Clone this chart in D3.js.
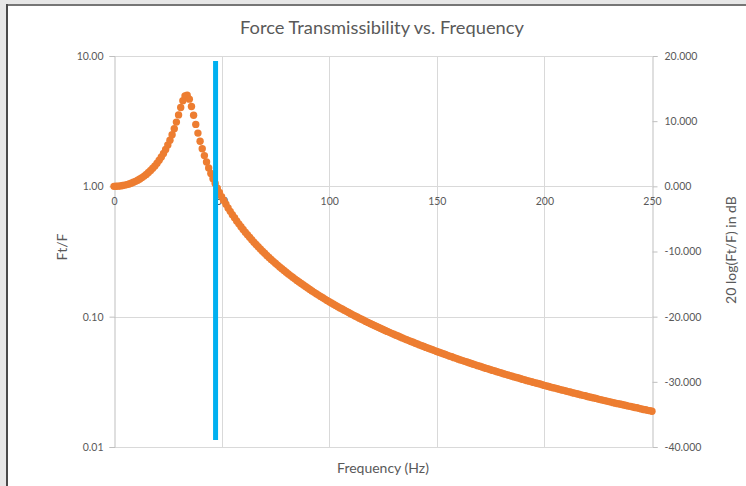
<!DOCTYPE html>
<html>
<head>
<meta charset="utf-8">
<script src="https://cdn.jsdelivr.net/npm/d3@7"></script>
<style>
html,body{margin:0;padding:0;background:#e7e7e7;}
svg{display:block;}
</style>
</head>
<body>
<svg id="chart" width="746" height="486"></svg>
<script>
// ---- data ----
const title = "Force Transmissibility vs. Frequency";
const xTitle = "Frequency (Hz)";
const yTitle = "Ft/F";
const y2Title = "20 log(Ft/F) in dB";
const xTicks = [0, 50, 100, 150, 200, 250];
const yTicks = [0.01, 0.1, 1, 10];
const y2Ticks = [-40, -30, -20, -10, 0, 10, 20];
const frequency = [
0,1,2,3,4,5,6,7,8,9,10,11,12,13,14,15,16,17,18,19,20,21,22,23,24,25,26,27,28,29,
30,31,32,33,34,35,36,37,38,39,40,41,42,43,44,45,46,47,48,49,50,51,52,53,54,55,56,57,58,59,
60,61,62,63,64,65,66,67,68,69,70,71,72,73,74,75,76,77,78,79,80,81,82,83,84,85,86,87,88,89,
90,91,92,93,94,95,96,97,98,99,100,101,102,103,104,105,106,107,108,109,110,111,112,113,114,115,116,117,118,119,
120,121,122,123,124,125,126,127,128,129,130,131,132,133,134,135,136,137,138,139,140,141,142,143,144,145,146,147,148,149,
150,151,152,153,154,155,156,157,158,159,160,161,162,163,164,165,166,167,168,169,170,171,172,173,174,175,176,177,178,179,
180,181,182,183,184,185,186,187,188,189,190,191,192,193,194,195,196,197,198,199,200,201,202,203,204,205,206,207,208,209,
210,211,212,213,214,215,216,217,218,219,220,221,222,223,224,225,226,227,228,229,230,231,232,233,234,235,236,237,238,239,
240,241,242,243,244,245,246,247,248,249,250];
const transmissibility = [
1,1.0008,1.0034,1.0077,1.0137,1.0216,1.0315,1.0433,1.0573,1.0736,
1.0924,1.1140,1.1386,1.1665,1.1983,1.2343,1.2752,1.3216,1.3746,1.4353,
1.5049,1.5855,1.6791,1.7889,1.9186,2.0734,2.2599,2.4871,2.7663,3.1106,
3.5316,4.0254,4.5421,4.9361,5.0000,4.6650,4.0992,3.5067,2.9876,2.5623,
2.2201,1.9447,1.7209,1.5369,1.3837,1.2547,1.1449,1.0505,0.9686,0.8969,
0.8339,0.7779,0.7280,0.6833,0.6430,0.6065,0.5733,0.5431,0.5154,0.4900,
0.4665,0.4449,0.4249,0.4063,0.3890,0.3728,0.3577,0.3436,0.3304,0.3180,
0.3063,0.2952,0.2849,0.2751,0.2658,0.2570,0.2486,0.2407,0.2332,0.2261,
0.2193,0.2128,0.2066,0.2007,0.1950,0.1896,0.1844,0.1795,0.1748,0.1702,
0.1658,0.1616,0.1576,0.1537,0.1500,0.1464,0.1430,0.1396,0.1364,0.1333,
0.1303,0.1274,0.1246,0.1220,0.1194,0.1168,0.1144,0.1120,0.1098,0.1075,
0.1054,0.1033,0.1013,0.0993,0.0974,0.0956,0.0938,0.0920,0.0904,0.0887,
0.0871,0.0856,0.0841,0.0826,0.0812,0.0798,0.0784,0.0771,0.0758,0.0745,
0.0733,0.0721,0.0710,0.0698,0.0687,0.0676,0.0666,0.0655,0.0645,0.0636,
0.0626,0.0617,0.0607,0.0598,0.0590,0.0581,0.0573,0.0565,0.0557,0.0549,
0.0541,0.0533,0.0526,0.0519,0.0512,0.0505,0.0498,0.0492,0.0485,0.0479,
0.0472,0.0466,0.0460,0.0454,0.0449,0.0443,0.0437,0.0432,0.0427,0.0421,
0.0416,0.0411,0.0406,0.0401,0.0397,0.0392,0.0387,0.0383,0.0378,0.0374,
0.0370,0.0365,0.0361,0.0357,0.0353,0.0349,0.0345,0.0341,0.0338,0.0334,
0.0330,0.0327,0.0323,0.0320,0.0317,0.0313,0.0310,0.0307,0.0304,0.0300,
0.0297,0.0294,0.0291,0.0288,0.0285,0.0283,0.0280,0.0277,0.0274,0.0272,
0.0269,0.0266,0.0264,0.0261,0.0259,0.0256,0.0254,0.0251,0.0249,0.0247,
0.0244,0.0242,0.0240,0.0238,0.0236,0.0233,0.0231,0.0229,0.0227,0.0225,
0.0223,0.0221,0.0219,0.0217,0.0215,0.0214,0.0212,0.0210,0.0208,0.0206,
0.0205,0.0203,0.0201,0.0200,0.0198,0.0196,0.0194,0.0193,0.0191,0.0190,0.0188];
const markerLineX = [47.2, 47.2];
const markerLineY = [9.15, 0.0113];

// ---- drawing ----
const svg = d3.select("#chart");
const font = "Lato, 'Noto Sans', sans-serif";
const textCol = "#595959";
const gridCol = "#d9d9d9";
const axisCol = "#bfbfbf";

// chart frame
svg.append("rect").attr("x", 8).attr("y", 6).attr("width", 738).attr("height", 480).attr("fill", "#ffffff");
svg.append("line").attr("x1", 6).attr("x2", 746).attr("y1", 5).attr("y2", 5).attr("stroke", "#767676").attr("stroke-width", 2);
svg.append("line").attr("x1", 7).attr("x2", 7).attr("y1", 4).attr("y2", 486).attr("stroke", "#4a4a4a").attr("stroke-width", 2);

const x = d3.scaleLinear().domain([0, 250]).range([114, 652]);
const y = d3.scaleLog().domain([0.01, 10]).range([447, 56]);
const y2 = d3.scaleLinear().domain([-40, 20]).range([447, 56]);

// gridlines
const grid = svg.append("g").attr("shape-rendering", "crispEdges");
grid.selectAll("line.h").data(yTicks).join("line")
  .attr("x1", x(0)).attr("x2", x(250))
  .attr("y1", d => Math.round(y(d)) + 0.5).attr("y2", d => Math.round(y(d)) + 0.5)
  .attr("stroke", gridCol).attr("stroke-width", 1);
grid.selectAll("line.v").data(xTicks.filter(d => d > 0 && d < 250)).join("line")
  .attr("x1", d => Math.round(x(d)) + 0.5).attr("x2", d => Math.round(x(d)) + 0.5)
  .attr("y1", y(10)).attr("y2", y(0.01))
  .attr("stroke", gridCol).attr("stroke-width", 1);

// left axis
const gL = svg.append("g").attr("transform", `translate(${x(0) + 0.5},0)`)
  .call(d3.axisLeft(y).tickValues(yTicks).tickFormat(d => d.toFixed(2)).tickSize(5).tickPadding(6));
// right axis
const gR = svg.append("g").attr("transform", `translate(${x(250) + 0.5},0)`)
  .call(d3.axisRight(y2).tickValues(y2Ticks).tickFormat(d => d.toFixed(3)).tickSize(5).tickPadding(7));
[gL, gR].forEach(g => {
  g.select(".domain").attr("stroke", axisCol);
  g.selectAll(".tick line").attr("stroke", axisCol);
  g.selectAll("text").attr("fill", textCol).style("font-family", font).style("font-size", "10.5px");
});

// x axis (crossing at y = 1)
const gX = svg.append("g").attr("transform", `translate(0,${Math.round(y(1)) + 0.5})`)
  .call(d3.axisBottom(x).tickValues(xTicks).tickFormat(d3.format("d")).tickSize(0).tickPadding(11));
gX.select(".domain").remove();
gX.selectAll("text").attr("fill", textCol).style("font-family", font).style("font-size", "10.5px");

// series: transmissibility markers
const pts = frequency.map((f, i) => ({ f, t: transmissibility[i] }));
svg.append("g").selectAll("circle").data(pts).join("circle")
  .attr("cx", d => x(d.f)).attr("cy", d => y(d.t)).attr("r", 3.7)
  .attr("fill", "#ed7d31");

// series: vertical marker line
svg.append("path")
  .datum(markerLineX.map((v, i) => [v, markerLineY[i]]))
  .attr("d", d3.line().x(d => x(d[0])).y(d => y(d[1])))
  .attr("stroke", "#00b0f0").attr("stroke-width", 5).attr("fill", "none");

// titles
svg.append("text").attr("x", 382).attr("y", 34).attr("text-anchor", "middle")
  .attr("fill", textCol).style("font-family", font).style("font-size", "18px")
  .attr("textLength", 284).attr("lengthAdjust", "spacingAndGlyphs").text(title);
svg.append("text").attr("x", 383).attr("y", 473).attr("text-anchor", "middle")
  .attr("fill", textCol).style("font-family", font).style("font-size", "14px").text(xTitle);
svg.append("text").attr("transform", "translate(67,247) rotate(-90)").attr("text-anchor", "middle")
  .attr("fill", textCol).style("font-family", font).style("font-size", "14px").text(yTitle);
svg.append("text").attr("transform", "translate(736,250) rotate(-90)").attr("text-anchor", "middle")
  .attr("fill", textCol).style("font-family", font).style("font-size", "14px").text(y2Title);
</script>
</body>
</html>
